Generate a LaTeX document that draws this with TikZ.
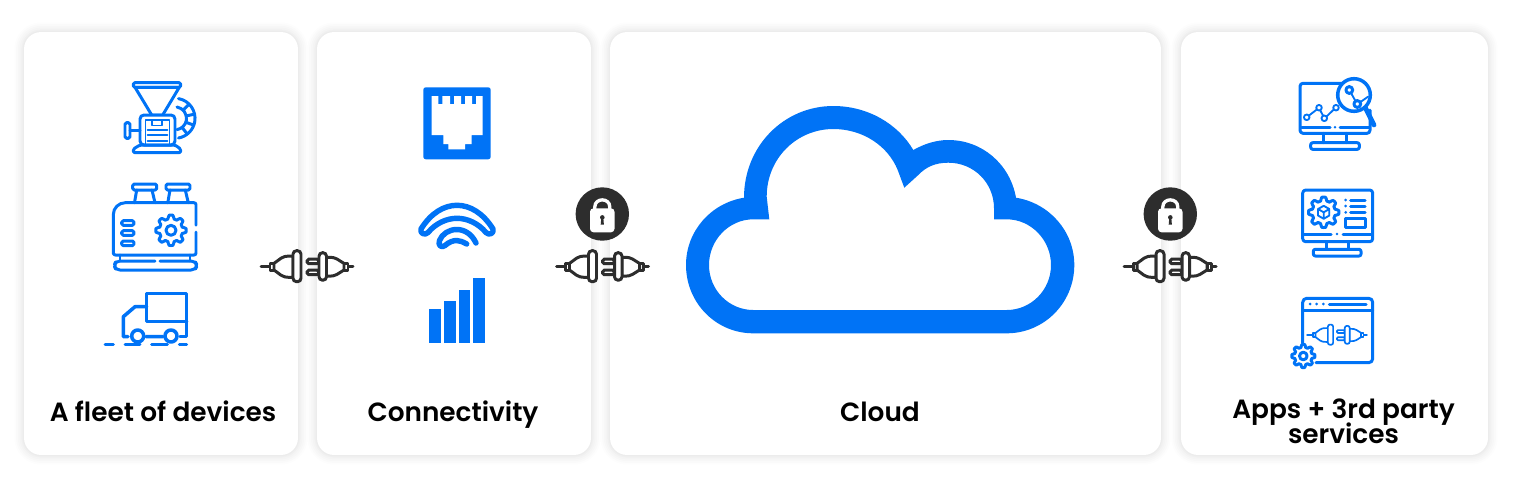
\documentclass[tikz,border=0pt]{standalone}
\usepackage{fontspec}
\setmainfont{Poppins}
\newfontfamily\labelfont{Poppins SemiBold}
\usetikzlibrary{positioning}
\definecolor{brand}{HTML}{0073F6}
\definecolor{darkgrey}{HTML}{2D2D2D}
\tikzstyle{card} = [rectangle, rounded corners=0.34cm, inner sep=0pt, fill=white,
  preaction={draw=black,opacity=0.008,line width=11pt},preaction={draw=black,opacity=0.01,line width=9pt},preaction={draw=black,opacity=0.012,line width=7pt},preaction={draw=black,opacity=0.012,line width=5pt},preaction={draw=black,opacity=0.014,line width=3pt},preaction={draw=black,opacity=0.014,line width=1.5pt}]
\tikzstyle{cardlabel} = [font=\labelfont\fontsize{15}{13}\selectfont, align=center, inner sep=0pt, anchor=base, text=black]
\tikzstyle{iconline} = [draw=brand, line width=1.7pt, line join=round, line cap=round]
\tikzstyle{thinline} = [iconline, line width=1.05pt]
\tikzset{
  gearpic/.pic={
    \draw[iconline, fill=white] plot[domain=0:360,samples=193,variable=\t] ({(13.4+1.8*min(1,max(-1,1.7*cos(8*\t))))*cos(\t)},{(13.4+1.8*min(1,max(-1,1.7*cos(8*\t))))*sin(\t)}) -- cycle;
    \draw[iconline] (0,0) circle[radius=5];
  },
  plugpic/.pic={
    \draw[line cap=round] (-46,0) -- (-37,0) (41,0) -- (46,0);
    \draw[fill=white,line join=round] (-37,-3.3) rectangle (-33,3.3) (37,-3.3) rectangle (41,3.3);
    \draw[fill=white,line join=round] (-33,-3.3) -- (-26,-8.5) .. controls (-24,-10) and (-22,-10.7) .. (-14,-10.7) -- (-14,10.7) .. controls (-22,10.7) and (-24,10) .. (-26,8.5) -- (-33,3.3) -- cycle;
    \draw[fill=white,line join=round] (37,-3.3) -- (30,-7.7) .. controls (28,-9) and (26,-9.5) .. (19,-9.5) -- (19,9.5) .. controls (26,9.5) and (28,9) .. (30,7.7) -- (37,3.3) -- cycle;
    \draw[fill=white,rounded corners=#1] (-14,-16) rectangle (-6,15);
    \draw[fill=white,rounded corners=#1*0.5] (0,-7.5) rectangle (12,-3);
    \draw[fill=white,rounded corners=#1*0.5] (0,3.5) rectangle (12,8);
    \draw[fill=white,rounded corners=#1] (12,-14) rectangle (19.5,13.5);
  },
  lockpic/.pic={
    \fill[darkgrey] (0,0) circle[radius=26.7];
    \draw[white,line width=1.9pt] (-7.5,-5) -- (-7.5,-7) .. controls (-7.5,-16.5) and (7.5,-16.5) .. (7.5,-7) -- (7.5,-5);
    \fill[white,rounded corners=0.07cm] (-12.3,-5.7) rectangle (12.2,18.3);
    \fill[darkgrey] (0,3.4) circle[radius=2.3] (-1,4) -- (1,4) -- (1.6,10.6) -- (-1.6,10.6) -- cycle;
  }
}

\begin{document}
\begin{tikzpicture}[x=0.02cm,y=-0.02cm]
\useasboundingbox (0,0) rectangle (1515,485);
\fill[white] (0,0) rectangle (1515,485);

\node (fleet) [card, minimum width=5.48cm, minimum height=8.46cm] at (161,243.5) {};
\node (connect) [card, minimum width=5.48cm, minimum height=8.46cm] at (454,243.5) {};
\node (cloud) [card, minimum width=11.02cm, minimum height=8.46cm] at (885.5,243.5) {};
\node (apps) [card, minimum width=6.14cm, minimum height=8.46cm] at (1334.5,243.5) {};

\node (fleetlabel) [cardlabel] at (163,421) {A fleet of devices};
\node (connectlabel) [cardlabel] at (453,421) {Connectivity};
\node (cloudlabel) [cardlabel] at (880,421) {Cloud};
\node (appslabel) [cardlabel] at (1343.5,443) {Apps + 3rd party\\[-3pt]services};

% cloud
\fill[brand,even odd rule] (753.3,333.3) -- (1006.7,333.3) .. controls (1044,333.3) and (1074.3,303) .. (1074.3,265) .. controls (1074.3,231) and (1049,203) .. (1016,197.7) .. controls (1010,164) and (982,140) .. (948.3,140) .. controls (936,140) and (924,144) .. (913.3,150) .. controls (898,124) and (868,106) .. (833.3,106) .. controls (784,106) and (744,146) .. (744,197.7) .. controls (711,203) and (686,231) .. (686,265) .. controls (686,303) and (716,333.3) .. (753.3,333.3) -- cycle
 (753.3,310) -- (1006.7,310) .. controls (1031,310) and (1051,290) .. (1051,265) .. controls (1051,240) and (1031,219.3) .. (1006.7,219.3) -- (994,219.3) -- (994,208.3) .. controls (994,183) and (974,162.7) .. (948.3,162.7) .. controls (935,162.7) and (926,167) .. (918.3,175) -- (904.3,187.7) -- (897.7,170) .. controls (888,146) and (863,129) .. (833.3,129) .. controls (797,129) and (766.7,158) .. (766.7,196.7) -- (769.3,219.3) -- (753.3,219.3) .. controls (729,219.3) and (709,240) .. (709,265) .. controls (709,290) and (729,310) .. (753.3,310) -- cycle;

% grinder
\draw[iconline] (178.5,98.6) arc[start angle=-80,end angle=80,radius=20];
\draw[iconline] (177,107) arc[start angle=-80,end angle=80,radius=11.5];
\foreach \a in {-45,-12,20,52} \draw[iconline] (175,118.3) ++(\a:12.5) -- ++(\a:6.5);
\draw[iconline,fill=white,rounded corners=0.03cm] (133.3,82.7) rectangle (180.7,87.3);
\draw[iconline,fill=white] (135,87.3) -- (179.3,87.3) -- (162.7,115) -- (151.7,115) -- cycle;
\draw[iconline,fill=white,rounded corners=0.08cm] (140,115) rectangle (175,145);
\draw[thinline] (145.5,145) -- (145.5,120) -- (169.5,120) -- (169.5,145);
\draw[thinline] (151.7,120) rectangle (161.7,125.5);
\foreach \y in {130,135,141} \draw[thinline] (147.5,\y) -- (167.5,\y);
\draw[iconline] (130,130) -- (140,130);
\draw[iconline,rounded corners=0.03cm] (125,122.7) rectangle (130,138.3);
\draw[iconline,rounded corners=0.03cm] (133.3,152.7) -- (180.7,152.7) -- (180.7,149) -- (175,145) -- (140,145) -- (133.3,149) -- cycle;

% generator
\draw[iconline] (196,225) [rounded corners=0.04cm] -- (196,202.7) [rounded corners=0.24cm] -- (113.3,202.7) [rounded corners=0.04cm] -- (113.3,255) -- (140,255) -- (196,255) -- (196,232);
\foreach \x in {0,33.3} {
  \draw[iconline,rounded corners=0.03cm] (132.7+\x,184) rectangle (156.7+\x,190);
  \draw[iconline] (136.7+\x,190) -- (134.5+\x,202.7) (152+\x,190) -- (155+\x,202.7);
}
\foreach \y in {220.7,230.7,241} \draw[iconline,rounded corners=0.03cm] (121.7,\y) rectangle (134,\y+4.6);
\pic at (171,230.3) {gearpic};
\draw[iconline] (120,255) -- (120,261) (190,255) -- (190,261);
\draw[iconline,rounded corners=0.08cm] (155,261) -- (116,261) -- (114,265.5) -- (116,270) -- (195,270) -- (197.3,265.5) -- (195,261) -- (160,261);

% truck
\draw[iconline,line width=2pt] (146.7,306.7) -- (146.7,293.3) -- (186.7,293.3) -- (186.7,336.7) -- (180,336.7);
\draw[iconline,line width=2pt] (146.7,306.7) -- (146.7,321.7) -- (186.7,321.7);
\draw[iconline,line width=2pt] (146.7,306.7) -- (135,306.7) -- (123.3,316.7) -- (123.3,336.7) -- (128,336.7) (146,336.7) -- (163,336.7);
\draw[iconline,line width=2pt,fill=white] (137.7,336) circle[radius=6] (171,336) circle[radius=6];
\draw[iconline] (105,344.3) -- (113.3,344.3) (125,344.3) -- (140,344.3) (151.7,344.3) -- (167.3,344.3) (179.3,344.3) -- (186.7,344.3);

% socket
\fill[brand,rounded corners=0.05cm] (423.3,87.3) rectangle (490.7,159.3);
\fill[white] (431.7,96) -- (438.3,96) -- (438.3,104) -- (442.3,104) -- (442.3,96) -- (450,96) -- (450,104) -- (454,104) -- (454,96) -- (461,96) -- (461,104) -- (465,104) -- (465,96) -- (472,96) -- (472,104) -- (476,104) -- (476,96) -- (482.7,96) -- (482.7,135) -- (471.7,135) -- (471.7,144) -- (465,144) -- (465,149.3) -- (448.3,149.3) -- (448.3,144) -- (443.3,144) -- (443.3,135) -- (431.7,135) -- cycle;

% wifi
\draw[iconline,line width=3.1pt] (421,229) .. controls (431,213) and (444,205.3) .. (457,205.3) .. controls (470,205.3) and (483,213) .. (493,229) .. controls (494.5,233) and (489,236) .. (486,232.5) .. controls (478,223) and (467,218.3) .. (457,218.3) .. controls (447,218.3) and (436,223) .. (428,232.5) .. controls (425,236) and (419.5,233) .. (421,229) -- cycle;
\draw[iconline,line width=3.1pt] (476,243) .. controls (472,234.5) and (465,229.5) .. (456.7,229.5) .. controls (449,229.5) and (442,234) .. (439.5,240.5) .. controls (437.5,246) and (442,248) .. (445,245.5) .. controls (449,242) and (453,240.5) .. (456.7,240.5) .. controls (460,240.5) and (463,242) .. (466.7,244);

% bars
\fill[brand] (429,308.7) rectangle (440.7,343.3);
\fill[brand] (444,300.7) rectangle (455.7,343.3);
\fill[brand] (458.7,290) rectangle (470.3,343.3);
\fill[brand] (473.3,277.7) rectangle (485,343.3);

% analytics monitor
\draw[iconline,rounded corners=0.06cm] (1345,83.3) -- (1300,83.3) -- (1300,133.3) -- (1370,133.3) -- (1370,110);
\draw[iconline] (1301.7,127.3) -- (1330,127.3) (1340,127.3) -- (1369,127.3);
\fill[brand] (1335,127.3) circle[radius=1.4];
\draw[iconline] (1323.3,133.3) -- (1323.3,142.7) (1346.7,133.3) -- (1346.7,142.7);
\draw[iconline,rounded corners=0.04cm] (1310.7,142.7) rectangle (1359.3,149.3);
\draw[thinline] (1309,115.5) -- (1316.8,109.5) (1320.3,110.5) -- (1323,115.5) (1326.5,116.5) -- (1333.8,109.5);
\foreach \p in {(1306.7,117.3),(1319,107.7),(1324.3,118.3),(1336,107.7)} \draw[thinline,fill=white] \p circle[radius=2.8];
\draw[iconline,line width=2.7pt,line cap=round] (1365,107) -- (1374,125);
\draw[iconline,line width=2pt,fill=white] (1354,95) circle[radius=16.3];
\draw[thinline] (1351,93) -- (1355.5,101) (1360.5,102) -- (1368,96.7);
\draw[iconline] (1349.3,90) circle[radius=3.4] (1357.3,104) circle[radius=3.4];

% settings monitor
\draw[iconline,rounded corners=0.06cm] (1302.7,190) rectangle (1372.7,241.7);
\draw[iconline] (1304,234) -- (1331,234) (1343,234) -- (1371,234);
\fill[brand] (1337,234) circle[radius=1.4];
\draw[iconline] (1326.7,241.7) -- (1326.7,249.3) (1348.3,241.7) -- (1348.3,249.3);
\draw[iconline,rounded corners=0.04cm] (1313.3,249.3) rectangle (1361,256);
\pic at (1323.7,212.3) {gearpic};
\fill[white] (1323.7,212.3) circle[radius=7];
\draw[thinline] (1323.7,205.8) -- (1329.3,209) -- (1329.3,215.5) -- (1323.7,218.8) -- (1318,215.5) -- (1318,209) -- cycle (1318,209) -- (1323.7,212.3) -- (1329.3,209) (1323.7,212.3) -- (1323.7,218.8);
\foreach \y in {200,206,212.3} {
  \fill[brand] (1345.7,\y) circle[radius=1.5];
  \draw[iconline] (1350.7,\y) -- (1365,\y);
}
\draw[iconline] (1345,218.3) rectangle (1365,227.7);

% plugin window
\draw[iconline,rounded corners=0.08cm] (1302.7,343) -- (1302.7,298.3) -- (1372.7,298.3) -- (1372.7,362.7) -- (1316,362.7);
\draw[iconline] (1302.7,310) -- (1372.7,310);
\foreach \x in {1310,1316.7,1323.3} \fill[brand] (\x,304) circle[radius=1.5];
\draw[iconline] (1329.3,304) -- (1366,304);
\pic[scale=0.65,color=brand,line width=0.95pt] at (1337,335) {plugpic=0.04cm};
\pic[scale=0.76] at (1303.3,356) {gearpic};

% plugs and locks
\pic[color=darkgrey,line width=1.7pt] at (307,266.7) {plugpic=0.07cm};
\pic[color=darkgrey,line width=1.7pt] at (602.5,266.7) {plugpic=0.07cm};
\pic[color=darkgrey,line width=1.7pt] at (1170,266.7) {plugpic=0.07cm};
\pic at (602.3,214) {lockpic};
\pic at (1170.3,214) {lockpic};
\end{tikzpicture}
\end{document}
